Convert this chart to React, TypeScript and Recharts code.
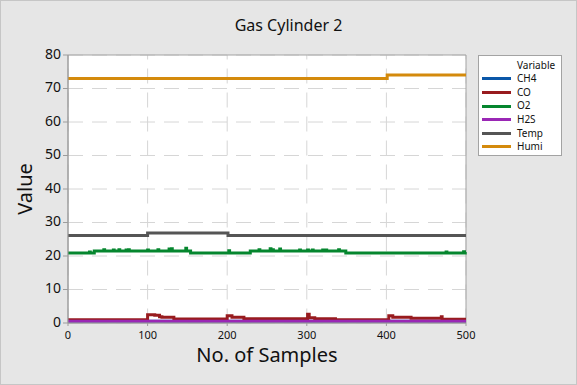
import {
  CartesianGrid,
  Legend,
  Line,
  LineChart,
  ReferenceArea,
  XAxis,
  YAxis,
} from 'recharts'

const FONT = '"Noto Sans", "Open Sans", sans-serif'

const xTicks = [0, 100, 200, 300, 400, 500]
const yTicks = [0, 10, 20, 30, 40, 50, 60, 70, 80]

// sample number (n) -> reading (v), one entry per change in level
const ch4 = [
  { n: 0, v: 0.5 },
  { n: 500, v: 0.5 },
]

const co = [
  { n: 0, v: 1.0 },
  { n: 100, v: 2.5 },
  { n: 109, v: 2.3 },
  { n: 115, v: 1.9 },
  { n: 118, v: 1.7 },
  { n: 133, v: 1.2 },
  { n: 200, v: 2.2 },
  { n: 206, v: 1.7 },
  { n: 221, v: 1.25 },
  { n: 301, v: 2.6 },
  { n: 303, v: 1.6 },
  { n: 310, v: 1.3 },
  { n: 336, v: 1.0 },
  { n: 403, v: 2.2 },
  { n: 408, v: 1.7 },
  { n: 431, v: 1.4 },
  { n: 469, v: 1.9 },
  { n: 470, v: 1.1 },
  { n: 500, v: 1.1 },
]

const o2 = [
  { n: 0, v: 20.9 },
  { n: 27, v: 21.2 },
  { n: 28, v: 20.9 },
  { n: 33, v: 21.5 },
  { n: 45, v: 21.9 },
  { n: 46, v: 21.5 },
  { n: 57, v: 21.8 },
  { n: 58, v: 21.5 },
  { n: 64, v: 21.9 },
  { n: 65, v: 21.5 },
  { n: 73, v: 21.8 },
  { n: 74, v: 21.5 },
  { n: 76, v: 21.9 },
  { n: 77, v: 21.5 },
  { n: 100, v: 21.8 },
  { n: 101, v: 21.5 },
  { n: 113, v: 21.9 },
  { n: 114, v: 21.5 },
  { n: 127, v: 22.1 },
  { n: 128, v: 21.5 },
  { n: 130, v: 22.2 },
  { n: 131, v: 21.5 },
  { n: 148, v: 22.3 },
  { n: 149, v: 21.5 },
  { n: 154, v: 20.9 },
  { n: 202, v: 21.6 },
  { n: 203, v: 20.9 },
  { n: 229, v: 21.5 },
  { n: 240, v: 21.9 },
  { n: 241, v: 21.5 },
  { n: 254, v: 22.2 },
  { n: 255, v: 21.5 },
  { n: 257, v: 21.9 },
  { n: 258, v: 21.5 },
  { n: 266, v: 22.1 },
  { n: 267, v: 21.5 },
  { n: 291, v: 21.8 },
  { n: 292, v: 21.5 },
  { n: 301, v: 21.8 },
  { n: 302, v: 21.5 },
  { n: 307, v: 21.8 },
  { n: 308, v: 21.5 },
  { n: 320, v: 21.8 },
  { n: 321, v: 21.5 },
  { n: 324, v: 21.8 },
  { n: 325, v: 21.5 },
  { n: 340, v: 21.9 },
  { n: 341, v: 21.5 },
  { n: 349, v: 20.9 },
  { n: 475, v: 21.2 },
  { n: 476, v: 20.9 },
  { n: 497, v: 21.3 },
  { n: 498, v: 20.9 },
  { n: 499, v: 21.2 },
  { n: 500, v: 21.2 },
]

const h2s = [
  { n: 0, v: 0.5 },
  { n: 500, v: 0.5 },
]

const temp = [
  { n: 0, v: 26.1 },
  { n: 100, v: 26.9 },
  { n: 201, v: 26.1 },
  { n: 500, v: 26.1 },
]

const humi = [
  { n: 0, v: 73.0 },
  { n: 401, v: 74.0 },
  { n: 500, v: 74.0 },
]

const seriesNames = ['CH4', 'CO', 'O2', 'H2S', 'Temp', 'Humi']
const seriesData = [ch4, co, o2, h2s, temp, humi]

const colors: Record<string, string> = {
  CH4: '#0a57a8',
  CO: '#981b1e',
  O2: '#05862e',
  H2S: '#9a27b5',
  Temp: '#555555',
  Humi: '#d48a0c',
}

const ROW = 13.6

function VariableLegend() {
  return (
    <div
      style={{
        boxSizing: 'border-box',
        width: 84,
        height: 101,
        border: '1px solid #a3a3a3',
        background: '#fff',
        paddingTop: 2.6,
        fontFamily: FONT,
        fontSize: 10,
        color: '#111',
      }}
    >
      <div style={{ height: ROW, lineHeight: `${ROW}px`, paddingLeft: 38 }}>Variable</div>
      {seriesNames.map((name) => (
        <div key={name} style={{ height: ROW, display: 'flex', alignItems: 'center' }}>
          <span
            style={{
              display: 'inline-block',
              width: 29,
              height: 3,
              marginLeft: 2.7,
              marginRight: 6.3,
              background: colors[name],
            }}
          />
          <span style={{ lineHeight: `${ROW}px` }}>{name}</span>
        </div>
      ))}
    </div>
  )
}

export default function App() {
  return (
    <div
      style={{
        position: 'relative',
        width: 577,
        height: 385,
        background: '#e6e6e6',
        boxShadow: 'inset 0 0 0 1px #c6c6c6',
        fontFamily: FONT,
      }}
    >
      <style>{'body { margin: 0; }'}</style>
      <div
        style={{
          position: 'absolute',
          top: 16.5,
          left: 0,
          width: 577,
          textAlign: 'center',
          fontSize: 16,
          lineHeight: '16px',
          color: '#111',
        }}
      >
        Gas Cylinder 2
      </div>
      <LineChart
        width={577}
        height={385}
        margin={{ top: 55, right: 111, bottom: 12, left: 18 }}
      >
        <CartesianGrid
          vertical={false}
          fill="#fff"
          stroke="#d6d6d6"
          strokeDasharray="15 9"
          horizontalValues={yTicks}
        />
        <CartesianGrid
          horizontal={false}
          stroke="#d6d6d6"
          strokeDasharray="15 9"
          strokeDashoffset={10.5}
          verticalValues={xTicks}
        />
        <XAxis
          type="number"
          dataKey="n"
          domain={[0, 500]}
          ticks={xTicks}
          height={50}
          tickSize={3}
          tickMargin={5}
          stroke="#9c9c9c"
          tick={{ fontSize: 11, fill: '#111', fontFamily: FONT }}
          label={{
            value: 'No. of Samples',
            position: 'insideBottom',
            offset: 11,
            style: { fontSize: 20, fill: '#111', fontFamily: FONT },
          }}
        />
        <YAxis
          type="number"
          domain={[0, 80]}
          ticks={yTicks}
          width={50}
          tickSize={5}
          stroke="#9c9c9c"
          tick={{ fontSize: 14, fill: '#111', fontFamily: FONT, dy: -1 }}
          label={{
            value: 'Value',
            angle: -90,
            position: 'insideLeft',
            offset: 7,
            style: { fontSize: 20, fill: '#111', fontFamily: FONT, textAnchor: 'middle' },
          }}
        />
        <ReferenceArea
          x1={0}
          x2={500}
          y1={0}
          y2={80}
          fill="none"
          stroke="#a3a3a3"
          strokeWidth={1}
          ifOverflow="visible"
        />
        {seriesNames.map((name, i) => (
          <Line
            key={name}
            name={name}
            data={seriesData[i]}
            dataKey="v"
            type="stepAfter"
            stroke={colors[name]}
            strokeWidth={3}
            dot={false}
            activeDot={false}
            isAnimationActive={false}
          />
        ))}
        <Legend
          layout="vertical"
          align="center"
          verticalAlign="middle"
          wrapperStyle={{ left: 478, top: 55, width: 84, height: 101 }}
          content={() => <VariableLegend />}
        />
      </LineChart>
    </div>
  )
}
